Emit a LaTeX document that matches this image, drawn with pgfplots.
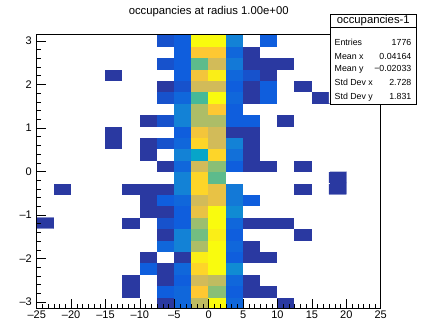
\documentclass[border=0pt]{standalone}
\usepackage{fontspec}
\setmainfont{Liberation Sans}
\usepackage{pgfplots}
\pgfplotsset{compat=1.18}
\begin{document}
\begin{tikzpicture}
\path[use as bounding box] (0pt,0pt) rectangle (421pt,321pt);
\begin{axis}[
  at={(36.7pt,12.7pt)}, anchor=south west, scale only axis,
  width=344pt, height=273.6pt,
  xmin=-25, xmax=25, ymin=-3.14159, ymax=3.14159,
  xtick={-25,-20,...,25},
  xticklabels={–25,–20,–15,–10,–5,0,5,10,15,20,25},
  ytick={-3,-2,-1,0,1,2,3},
  yticklabels={–3,–2,–1,0,1,2,3},
  minor x tick num=5, minor y tick num=4,
  tick pos=left, tick align=inside,
  major tick length=9pt, minor tick length=4.5pt,
  tick style={line width=0.5pt, black},
  axis line style={line width=0.7pt, black},
  tick label style={font=\fontsize{11}{11}\selectfont},
  xticklabel style={yshift=1.3pt},
  yticklabel style={xshift=-1.3pt},
  axis on top,
  colormap={bird}{rgb255(0cm)=(255,255,255) rgb255(0.9cm)=(255,255,255) rgb255(1cm)=(42,57,161) rgb255(3.82cm)=(15,92,221) rgb255(7.84cm)=(20,129,214) rgb255(11.87cm)=(6,164,202) rgb255(15.9cm)=(46,183,164) rgb255(19.9cm)=(135,191,119) rgb255(23.95cm)=(209,187,89) rgb255(27.97cm)=(254,200,50) rgb255(32cm)=(249,251,14)},
  point meta min=0, point meta max=32,
]
\addplot[matrix plot*, mesh/cols=18, point meta=explicit] table[row sep=\\, x=x, y=y, meta=c] {
x y c\\
-23.75 -3.0107 0\\ -21.25 -3.0107 0\\ -18.75 -3.0107 0\\ -16.25 -3.0107 0\\ -13.75 -3.0107 0\\ -11.25 -3.0107 0\\ -8.75 -3.0107 0\\ -6.25 -3.0107 1\\ -3.75 -3.0107 5\\ -1.25 -3.0107 23\\ 1.25 -3.0107 32\\ 3.75 -3.0107 5\\ 6.25 -3.0107 0\\ 8.75 -3.0107 0\\ 11.25 -3.0107 1\\ 13.75 -3.0107 0\\ 16.25 -3.0107 0\\ 18.75 -3.0107 0\\
-23.75 -2.7489 0\\ -21.25 -2.7489 0\\ -18.75 -2.7489 0\\ -16.25 -2.7489 0\\ -13.75 -2.7489 0\\ -11.25 -2.7489 1\\ -8.75 -2.7489 0\\ -6.25 -2.7489 4\\ -3.75 -2.7489 5\\ -1.25 -2.7489 28\\ 1.25 -2.7489 20\\ 3.75 -2.7489 4\\ 6.25 -2.7489 1\\ 8.75 -2.7489 1\\ 11.25 -2.7489 0\\ 13.75 -2.7489 0\\ 16.25 -2.7489 0\\ 18.75 -2.7489 0\\
-23.75 -2.4871 0\\ -21.25 -2.4871 0\\ -18.75 -2.4871 0\\ -16.25 -2.4871 0\\ -13.75 -2.4871 0\\ -11.25 -2.4871 1\\ -8.75 -2.4871 0\\ -6.25 -2.4871 1\\ -3.75 -2.4871 4\\ -1.25 -2.4871 24\\ 1.25 -2.4871 23\\ 3.75 -2.4871 5\\ 6.25 -2.4871 1\\ 8.75 -2.4871 0\\ 11.25 -2.4871 0\\ 13.75 -2.4871 0\\ 16.25 -2.4871 0\\ 18.75 -2.4871 0\\
-23.75 -2.2253 0\\ -21.25 -2.2253 0\\ -18.75 -2.2253 0\\ -16.25 -2.2253 0\\ -13.75 -2.2253 0\\ -11.25 -2.2253 0\\ -8.75 -2.2253 4\\ -6.25 -2.2253 1\\ -3.75 -2.2253 5\\ -1.25 -2.2253 29\\ 1.25 -2.2253 32\\ 3.75 -2.2253 9\\ 6.25 -2.2253 0\\ 8.75 -2.2253 0\\ 11.25 -2.2253 0\\ 13.75 -2.2253 0\\ 16.25 -2.2253 0\\ 18.75 -2.2253 0\\
-23.75 -1.9635 0\\ -21.25 -1.9635 0\\ -18.75 -1.9635 0\\ -16.25 -1.9635 0\\ -13.75 -1.9635 0\\ -11.25 -1.9635 0\\ -8.75 -1.9635 1\\ -6.25 -1.9635 0\\ -3.75 -1.9635 1\\ -1.25 -1.9635 31\\ 1.25 -1.9635 32\\ 3.75 -1.9635 4\\ 6.25 -1.9635 1\\ 8.75 -1.9635 1\\ 11.25 -1.9635 0\\ 13.75 -1.9635 0\\ 16.25 -1.9635 0\\ 18.75 -1.9635 0\\
-23.75 -1.7017 0\\ -21.25 -1.7017 0\\ -18.75 -1.7017 0\\ -16.25 -1.7017 0\\ -13.75 -1.7017 0\\ -11.25 -1.7017 0\\ -8.75 -1.7017 0\\ -6.25 -1.7017 5\\ -3.75 -1.7017 8\\ -1.25 -1.7017 22\\ 1.25 -1.7017 32\\ 3.75 -1.7017 5\\ 6.25 -1.7017 1\\ 8.75 -1.7017 0\\ 11.25 -1.7017 0\\ 13.75 -1.7017 0\\ 16.25 -1.7017 0\\ 18.75 -1.7017 0\\
-23.75 -1.4399 0\\ -21.25 -1.4399 0\\ -18.75 -1.4399 0\\ -16.25 -1.4399 0\\ -13.75 -1.4399 0\\ -11.25 -1.4399 0\\ -8.75 -1.4399 0\\ -6.25 -1.4399 1\\ -3.75 -1.4399 8\\ -1.25 -1.4399 19\\ 1.25 -1.4399 31\\ 3.75 -1.4399 4\\ 6.25 -1.4399 0\\ 8.75 -1.4399 0\\ 11.25 -1.4399 0\\ 13.75 -1.4399 1\\ 16.25 -1.4399 0\\ 18.75 -1.4399 0\\
-23.75 -1.1781 1\\ -21.25 -1.1781 0\\ -18.75 -1.1781 0\\ -16.25 -1.1781 0\\ -13.75 -1.1781 0\\ -11.25 -1.1781 1\\ -8.75 -1.1781 0\\ -6.25 -1.1781 3\\ -3.75 -1.1781 4\\ -1.25 -1.1781 21\\ 1.25 -1.1781 32\\ 3.75 -1.1781 5\\ 6.25 -1.1781 1\\ 8.75 -1.1781 1\\ 11.25 -1.1781 1\\ 13.75 -1.1781 0\\ 16.25 -1.1781 0\\ 18.75 -1.1781 0\\
-23.75 -0.9163 0\\ -21.25 -0.9163 0\\ -18.75 -0.9163 0\\ -16.25 -0.9163 0\\ -13.75 -0.9163 0\\ -11.25 -0.9163 0\\ -8.75 -0.9163 1\\ -6.25 -0.9163 1\\ -3.75 -0.9163 4\\ -1.25 -0.9163 26\\ 1.25 -0.9163 32\\ 3.75 -0.9163 9\\ 6.25 -0.9163 0\\ 8.75 -0.9163 0\\ 11.25 -0.9163 0\\ 13.75 -0.9163 0\\ 16.25 -0.9163 0\\ 18.75 -0.9163 0\\
-23.75 -0.6545 0\\ -21.25 -0.6545 0\\ -18.75 -0.6545 0\\ -16.25 -0.6545 0\\ -13.75 -0.6545 0\\ -11.25 -0.6545 0\\ -8.75 -0.6545 1\\ -6.25 -0.6545 4\\ -3.75 -0.6545 5\\ -1.25 -0.6545 24\\ 1.25 -0.6545 26\\ 3.75 -0.6545 7\\ 6.25 -0.6545 4\\ 8.75 -0.6545 0\\ 11.25 -0.6545 0\\ 13.75 -0.6545 0\\ 16.25 -0.6545 0\\ 18.75 -0.6545 0\\
-23.75 -0.3927 0\\ -21.25 -0.3927 1\\ -18.75 -0.3927 0\\ -16.25 -0.3927 0\\ -13.75 -0.3927 0\\ -11.25 -0.3927 1\\ -8.75 -0.3927 1\\ -6.25 -0.3927 1\\ -3.75 -0.3927 8\\ -1.25 -0.3927 29\\ 1.25 -0.3927 26\\ 3.75 -0.3927 7\\ 6.25 -0.3927 0\\ 8.75 -0.3927 0\\ 11.25 -0.3927 0\\ 13.75 -0.3927 1\\ 16.25 -0.3927 0\\ 18.75 -0.3927 1\\
-23.75 -0.1309 0\\ -21.25 -0.1309 0\\ -18.75 -0.1309 0\\ -16.25 -0.1309 0\\ -13.75 -0.1309 0\\ -11.25 -0.1309 0\\ -8.75 -0.1309 0\\ -6.25 -0.1309 0\\ -3.75 -0.1309 8\\ -1.25 -0.1309 29\\ 1.25 -0.1309 18\\ 3.75 -0.1309 0\\ 6.25 -0.1309 0\\ 8.75 -0.1309 0\\ 11.25 -0.1309 0\\ 13.75 -0.1309 0\\ 16.25 -0.1309 0\\ 18.75 -0.1309 1\\
-23.75 0.1309 0\\ -21.25 0.1309 0\\ -18.75 0.1309 0\\ -16.25 0.1309 0\\ -13.75 0.1309 0\\ -11.25 0.1309 0\\ -8.75 0.1309 0\\ -6.25 0.1309 1\\ -3.75 0.1309 5\\ -1.25 0.1309 24\\ 1.25 0.1309 20\\ 3.75 0.1309 4\\ 6.25 0.1309 1\\ 8.75 0.1309 1\\ 11.25 0.1309 0\\ 13.75 0.1309 1\\ 16.25 0.1309 0\\ 18.75 0.1309 0\\
-23.75 0.3927 0\\ -21.25 0.3927 0\\ -18.75 0.3927 0\\ -16.25 0.3927 0\\ -13.75 0.3927 0\\ -11.25 0.3927 0\\ -8.75 0.3927 1\\ -6.25 0.3927 0\\ -3.75 0.3927 8\\ -1.25 0.3927 12\\ 1.25 0.3927 29\\ 3.75 0.3927 6\\ 6.25 0.3927 1\\ 8.75 0.3927 0\\ 11.25 0.3927 0\\ 13.75 0.3927 0\\ 16.25 0.3927 0\\ 18.75 0.3927 0\\
-23.75 0.6545 0\\ -21.25 0.6545 0\\ -18.75 0.6545 0\\ -16.25 0.6545 0\\ -13.75 0.6545 1\\ -11.25 0.6545 0\\ -8.75 0.6545 1\\ -6.25 0.6545 3\\ -3.75 0.6545 5\\ -1.25 0.6545 29\\ 1.25 0.6545 24\\ 3.75 0.6545 8\\ 6.25 0.6545 1\\ 8.75 0.6545 0\\ 11.25 0.6545 0\\ 13.75 0.6545 0\\ 16.25 0.6545 0\\ 18.75 0.6545 0\\
-23.75 0.9163 0\\ -21.25 0.9163 0\\ -18.75 0.9163 0\\ -16.25 0.9163 0\\ -13.75 0.9163 1\\ -11.25 0.9163 0\\ -8.75 0.9163 0\\ -6.25 0.9163 0\\ -3.75 0.9163 4\\ -1.25 0.9163 27\\ 1.25 0.9163 24\\ 3.75 0.9163 1\\ 6.25 0.9163 1\\ 8.75 0.9163 0\\ 11.25 0.9163 0\\ 13.75 0.9163 0\\ 16.25 0.9163 0\\ 18.75 0.9163 0\\
-23.75 1.1781 0\\ -21.25 1.1781 0\\ -18.75 1.1781 0\\ -16.25 1.1781 0\\ -13.75 1.1781 0\\ -11.25 1.1781 0\\ -8.75 1.1781 1\\ -6.25 1.1781 3\\ -3.75 1.1781 8\\ -1.25 1.1781 22\\ 1.25 1.1781 22\\ 3.75 1.1781 4\\ 6.25 1.1781 4\\ 8.75 1.1781 0\\ 11.25 1.1781 1\\ 13.75 1.1781 0\\ 16.25 1.1781 0\\ 18.75 1.1781 0\\
-23.75 1.4399 0\\ -21.25 1.4399 0\\ -18.75 1.4399 0\\ -16.25 1.4399 0\\ -13.75 1.4399 0\\ -11.25 1.4399 0\\ -8.75 1.4399 0\\ -6.25 1.4399 0\\ -3.75 1.4399 8\\ -1.25 1.4399 22\\ 1.25 1.4399 28\\ 3.75 1.4399 4\\ 6.25 1.4399 0\\ 8.75 1.4399 0\\ 11.25 1.4399 0\\ 13.75 1.4399 0\\ 16.25 1.4399 0\\ 18.75 1.4399 0\\
-23.75 1.7017 0\\ -21.25 1.7017 0\\ -18.75 1.7017 0\\ -16.25 1.7017 0\\ -13.75 1.7017 0\\ -11.25 1.7017 0\\ -8.75 1.7017 0\\ -6.25 1.7017 3\\ -3.75 1.7017 5\\ -1.25 1.7017 17\\ 1.25 1.7017 32\\ 3.75 1.7017 5\\ 6.25 1.7017 1\\ 8.75 1.7017 4\\ 11.25 1.7017 0\\ 13.75 1.7017 0\\ 16.25 1.7017 1\\ 18.75 1.7017 0\\
-23.75 1.9635 0\\ -21.25 1.9635 0\\ -18.75 1.9635 0\\ -16.25 1.9635 0\\ -13.75 1.9635 0\\ -11.25 1.9635 0\\ -8.75 1.9635 0\\ -6.25 1.9635 1\\ -3.75 1.9635 3\\ -1.25 1.9635 24\\ 1.25 1.9635 24\\ 3.75 1.9635 4\\ 6.25 1.9635 1\\ 8.75 1.9635 4\\ 11.25 1.9635 0\\ 13.75 1.9635 1\\ 16.25 1.9635 0\\ 18.75 1.9635 0\\
-23.75 2.2253 0\\ -21.25 2.2253 0\\ -18.75 2.2253 0\\ -16.25 2.2253 0\\ -13.75 2.2253 1\\ -11.25 2.2253 0\\ -8.75 2.2253 0\\ -6.25 2.2253 0\\ -3.75 2.2253 4\\ -1.25 2.2253 27\\ 1.25 2.2253 31\\ 3.75 2.2253 5\\ 6.25 2.2253 3\\ 8.75 2.2253 1\\ 11.25 2.2253 0\\ 13.75 2.2253 0\\ 16.25 2.2253 0\\ 18.75 2.2253 0\\
-23.75 2.4871 0\\ -21.25 2.4871 0\\ -18.75 2.4871 0\\ -16.25 2.4871 0\\ -13.75 2.4871 0\\ -11.25 2.4871 0\\ -8.75 2.4871 0\\ -6.25 2.4871 3\\ -3.75 2.4871 4\\ -1.25 2.4871 18\\ 1.25 2.4871 24\\ 3.75 2.4871 7\\ 6.25 2.4871 1\\ 8.75 2.4871 1\\ 11.25 2.4871 1\\ 13.75 2.4871 0\\ 16.25 2.4871 0\\ 18.75 2.4871 0\\
-23.75 2.7489 0\\ -21.25 2.7489 0\\ -18.75 2.7489 0\\ -16.25 2.7489 0\\ -13.75 2.7489 0\\ -11.25 2.7489 0\\ -8.75 2.7489 0\\ -6.25 2.7489 0\\ -3.75 2.7489 4\\ -1.25 2.7489 28\\ 1.25 2.7489 28\\ 3.75 2.7489 5\\ 6.25 2.7489 1\\ 8.75 2.7489 0\\ 11.25 2.7489 0\\ 13.75 2.7489 0\\ 16.25 2.7489 0\\ 18.75 2.7489 0\\
-23.75 3.0107 0\\ -21.25 3.0107 0\\ -18.75 3.0107 0\\ -16.25 3.0107 0\\ -13.75 3.0107 0\\ -11.25 3.0107 0\\ -8.75 3.0107 0\\ -6.25 3.0107 3\\ -3.75 3.0107 4\\ -1.25 3.0107 32\\ 1.25 3.0107 32\\ 3.75 3.0107 8\\ 6.25 3.0107 0\\ 8.75 3.0107 4\\ 11.25 3.0107 0\\ 13.75 3.0107 0\\ 16.25 3.0107 0\\ 18.75 3.0107 0\\
};
\end{axis}
\node[anchor=base, inner sep=0pt, font=\fontsize{11.3}{11.3}\selectfont] at (208.7pt,306.5pt) {occupancies at radius 1.00e+00};
\draw[line width=0.6pt, fill=white] (330pt,217pt) rectangle (416.7pt,307pt);
\draw[line width=0.6pt] (330pt,293.7pt) -- (416.7pt,293.7pt);
\node[anchor=base, inner sep=0pt, font=\fontsize{11.3}{11.3}\selectfont] at (373.3pt,297.3pt) {occupancies-1};
\begin{scope}[every node/.style={inner sep=0pt, font=\fontsize{8.8}{8.8}\selectfont}]
\node[anchor=base west] at (334.5pt,275.3pt) {Entries};
\node[anchor=base east] at (411.5pt,275.3pt) {1776};
\node[anchor=base west] at (334.5pt,261.7pt) {Mean x};
\node[anchor=base east] at (411.5pt,261.7pt) {0.04164};
\node[anchor=base west] at (334.5pt,249pt) {Mean y};
\node[anchor=base east] at (411.5pt,249pt) {−0.02033};
\node[anchor=base west] at (334.5pt,235.3pt) {Std Dev x};
\node[anchor=base east] at (411.5pt,235.3pt) {2.728};
\node[anchor=base west] at (334.5pt,221.7pt) {Std Dev y};
\node[anchor=base east] at (411.5pt,221.7pt) {1.831};
\end{scope}
\end{tikzpicture}
\end{document}
